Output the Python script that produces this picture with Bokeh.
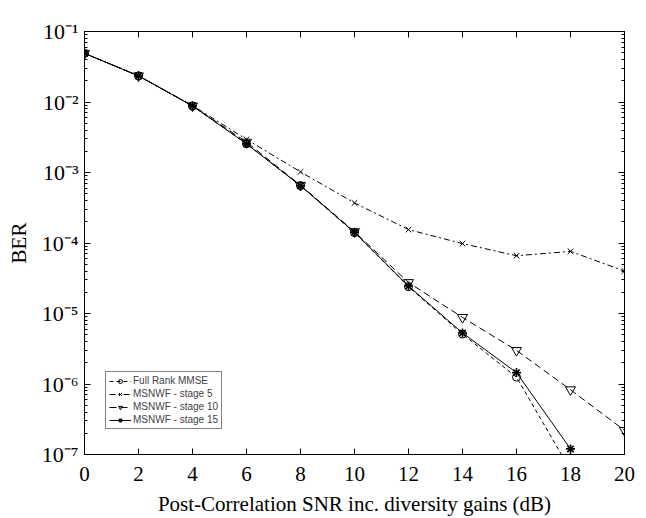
from bokeh.plotting import figure
from bokeh.models import LogAxis, LinearAxis, Range1d, Legend, LegendItem, FixedTicker, LogTicker
from bokeh.embed import file_html
from bokeh.resources import INLINE

snr = [0, 2, 4, 6, 8, 10, 12, 14, 16, 18, 20]
full_rank = [4.9e-2, 2.35e-2, 8.8e-3, 2.55e-3, 6.5e-4, 1.4e-4, 2.4e-5, 5.1e-6, 1.25e-6, 6e-8]
stage5 = [4.9e-2, 2.35e-2, 8.9e-3, 2.95e-3, 1.02e-3, 3.7e-4, 1.55e-4, 9.8e-5, 6.6e-5, 7.6e-5, 4.0e-5]
stage10 = [4.9e-2, 2.35e-2, 8.8e-3, 2.7e-3, 6.6e-4, 1.45e-4, 2.75e-5, 8.8e-6, 3.0e-6, 8.3e-7, 2.2e-7]
stage15 = [4.9e-2, 2.35e-2, 8.8e-3, 2.55e-3, 6.5e-4, 1.42e-4, 2.45e-5, 5.3e-6, 1.45e-6, 1.2e-7]
labels = ["Full Rank MMSE", "MSNWF - stage 5", "MSNWF - stage 10", "MSNWF - stage 15"]
x_ticks = [0, 2, 4, 6, 8, 10, 12, 14, 16, 18, 20]
y_ticks = [1e-7, 1e-6, 1e-5, 1e-4, 1e-3, 1e-2, 1e-1]
y_tick_labels = ["10\u207b\u2077", "10\u207b\u2076", "10\u207b\u2075", "10\u207b\u2074",
                 "10\u207b\u00b3", "10\u207b\u00b2", "10\u207b\u00b9"]

p = figure(width=646, height=518, y_axis_type="log", output_backend="svg",
           toolbar_location=None, x_range=Range1d(0, 20), y_range=Range1d(1e-7, 1e-1),
           min_border_left=84, min_border_right=22, min_border_top=31, min_border_bottom=62)
p.grid.visible = False
p.outline_line_color = "black"
p.background_fill_color = "white"

serif = "Liberation Serif"

def style_axis(ax):
    ax.axis_line_color = "black"
    ax.major_tick_in = 6
    ax.major_tick_out = 0
    ax.minor_tick_in = 3
    ax.minor_tick_out = 0
    ax.major_label_text_font = serif
    ax.major_label_text_font_size = "21px"
    ax.major_label_text_color = "black"
    ax.axis_label_text_font = serif
    ax.axis_label_text_font_style = "normal"
    ax.axis_label_text_font_size = "21px"
    ax.axis_label_text_color = "black"

def hide_labels(ax):
    ax.major_label_text_color = None
    ax.major_label_text_font_size = "1px"
    ax.major_label_standoff = 0

xa = p.xaxis[0]
xa.ticker = FixedTicker(ticks=x_ticks)
xa.axis_label = "Post-Correlation SNR inc. diversity gains (dB)"
style_axis(xa)
xa.major_label_standoff = 12
xa.axis_label_standoff = 8

ya = p.yaxis[0]
ya.ticker = LogTicker(num_minor_ticks=10)
ya.major_label_overrides = {v: s for v, s in zip(y_ticks, y_tick_labels)}
ya.axis_label = "BER"
style_axis(ya)
ya.major_label_text_font_size = "22px"
ya.major_label_standoff = 6
ya.axis_label_standoff = 8

top = LinearAxis(ticker=FixedTicker(ticks=x_ticks))
style_axis(top)
hide_labels(top)
p.add_layout(top, "above")
right = LogAxis(ticker=LogTicker(num_minor_ticks=10))
style_axis(right)
hide_labels(right)
p.add_layout(right, "right")

n = len(full_rank)
r1l = p.line(snr[:n], full_rank, line_color="black", line_width=1, line_dash="4 3")
r1m = p.scatter(snr[:n], full_rank, marker="circle", size=8, fill_color=None, line_color="black")
r2l = p.line(snr, stage5, line_color="black", line_width=1, line_dash="6 3 2 3")
r2m = p.scatter(snr, stage5, marker="x", size=8, line_color="black")
r3l = p.line(snr, stage10, line_color="black", line_width=1, line_dash="7 4")
r3m = p.scatter(snr, stage10, marker="inverted_triangle", size=10, fill_color=None, line_color="black")
m = len(stage15)
r4l = p.line(snr[:m], stage15, line_color="black", line_width=1)
r4m = p.scatter(snr[:m], stage15, marker="asterisk", size=9, line_color="black", line_width=1.6)

legend = Legend(items=[
    LegendItem(label=labels[0], renderers=[r1l, r1m]),
    LegendItem(label=labels[1], renderers=[r2l, r2m]),
    LegendItem(label=labels[2], renderers=[r3l, r3m]),
    LegendItem(label=labels[3], renderers=[r4l, r4m]),
], location=(21, 25))
legend.label_text_font = "Liberation Sans"
legend.label_text_font_size = "10px"
legend.label_height = 10
legend.glyph_height = 10
legend.glyph_width = 22
legend.spacing = 2
legend.padding = 3
legend.margin = 0
legend.label_standoff = 2
legend.border_line_color = "black"
legend.border_line_width = 1
p.add_layout(legend, "center")

open("out.html", "w").write(file_html(p, INLINE))
